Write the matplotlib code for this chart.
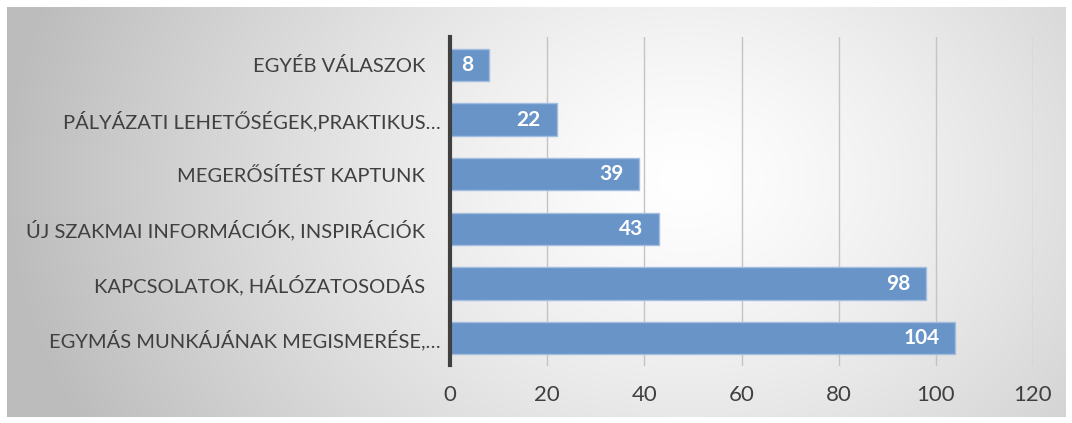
import numpy as np
import matplotlib
matplotlib.use("Agg")
import matplotlib.pyplot as plt
import matplotlib.transforms as mtransforms

categories = [
    "EGYMÁS MUNKÁJÁNAK MEGISMERÉSE,…",
    "KAPCSOLATOK, HÁLÓZATOSODÁS",
    "ÚJ SZAKMAI INFORMÁCIÓK, INSPIRÁCIÓK",
    "MEGERŐSÍTÉST KAPTUNK",
    "PÁLYÁZATI LEHETŐSÉGEK,PRAKTIKUS…",
    "EGYÉB VÁLASZOK",
]
values = [104, 98, 43, 39, 22, 8]
xticks = [0, 20, 40, 60, 80, 100, 120]

plt.rcParams['font.family'] = ['Lato', 'DejaVu Sans']

W, H = 1072, 423
fig = plt.figure(figsize=(W / 100, H / 100), dpi=100)

# background radial gradient within frame
bg = fig.add_axes([7 / W, 1 - 417 / H, (1066 - 7) / W, (417 - 7) / H])
bg.set_axis_off()
ny, nx = 200, 500
yy, xx = np.mgrid[0:ny, 0:nx]
cx, cy = 0.64 * nx, 0.42 * ny
r = np.sqrt(((xx - cx) / (nx * 0.64)) ** 2 + ((yy - cy) / (ny * 1.3)) ** 2)
r = np.clip(r, 0, 1)
val = 1.0 - 0.26 * r ** 1.3
img = np.dstack([val, val, val])
bg.imshow(img, aspect='auto', extent=[0, 1, 0, 1], interpolation='bilinear')
bg.set_xlim(0, 1)
bg.set_ylim(0, 1)

ax = fig.add_axes([450 / W, 1 - 365.5 / H, (1033 - 450) / W, (365.5 - 37.5) / H])
ax.patch.set_alpha(0)

y = np.arange(len(categories))
bars = ax.barh(y, values, height=0.59, color='#6894c8', edgecolor='#a2bde0', linewidth=1.0, zorder=3)
ax.set_xlim(0, 120)
ax.set_ylim(-0.5, len(categories) - 0.5)
ax.set_xticks(xticks)
ax.set_xticklabels([str(t) for t in xticks])
ax.set_yticks(y)
ax.set_yticklabels(categories)
ax.tick_params(axis='both', length=0, colors='#404040')
ax.tick_params(axis='y', pad=7, labelsize=14.5)
ax.tick_params(axis='x', pad=14, labelsize=16)
ax.grid(axis='x', color='#c4c4c4', linewidth=1.0, zorder=0)
for s in ['top', 'right', 'bottom']:
    ax.spines[s].set_visible(False)
ax.spines['left'].set_color('#404040')
ax.spines['left'].set_linewidth(3)
ax.spines['left'].set_zorder(5)

# non-truncated labels sit a bit further from the axis
shift = mtransforms.ScaledTranslation(-15 / 100, 0, fig.dpi_scale_trans)
for lab in ax.get_yticklabels():
    if not lab.get_text().endswith("…"):
        lab.set_transform(lab.get_transform() + shift)

for b, v in zip(bars, values):
    ax.annotate(str(v), xy=(b.get_width(), b.get_y() + b.get_height() / 2),
                xytext=(-11.5, 0), textcoords='offset points',
                ha='right', va='center', color='white', fontsize=15,
                fontweight='bold', zorder=4)

fig.savefig('out.png', dpi=100)
